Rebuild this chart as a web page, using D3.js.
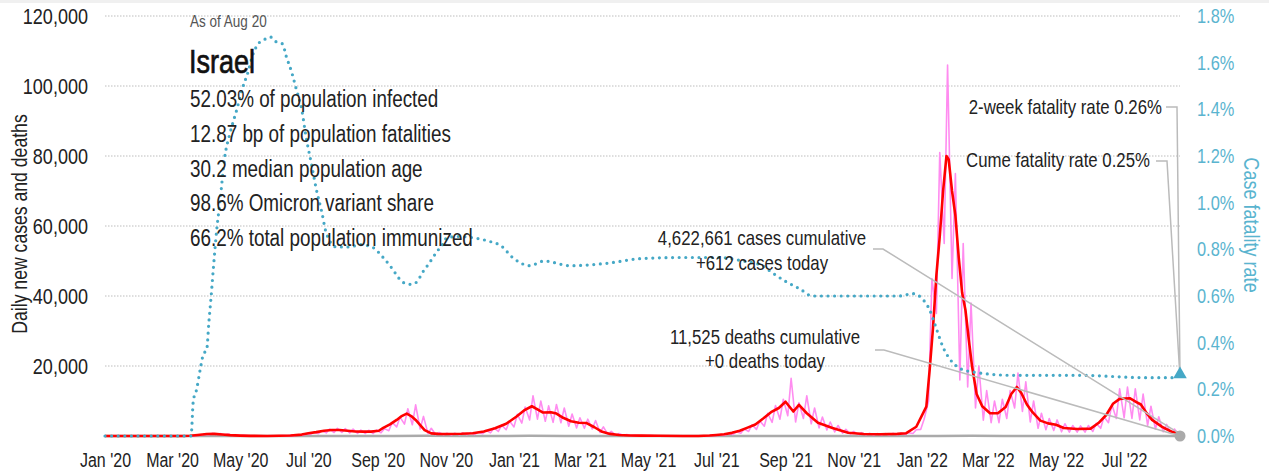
<!DOCTYPE html>
<html>
<head>
<meta charset="utf-8">
<script src="https://cdn.jsdelivr.net/npm/d3@7"></script>
<style>
  html, body { margin: 0; padding: 0; background: #fff; }
  svg { display: block; font-family: "Liberation Sans", Arial, sans-serif; }
</style>
</head>
<body>
<svg id="chart" width="1269" height="476"></svg>
<script>
// ---- Data -------------------------------------------------------------
const startDay = "2020-01-01";
const endDay = "2022-08-20";

// 7-day average of daily new cases
const avgDates = [
  "2020-01-01","2020-03-01","2020-03-10","2020-03-17","2020-03-24","2020-04-01","2020-04-08","2020-04-15",
  "2020-04-22","2020-05-01","2020-05-10","2020-05-25","2020-06-05","2020-06-15","2020-06-25","2020-07-01",
  "2020-07-08","2020-07-15","2020-07-22","2020-07-29","2020-08-05","2020-08-12","2020-08-19","2020-08-26",
  "2020-09-02","2020-09-06","2020-09-12","2020-09-18","2020-09-22","2020-09-27","2020-10-01","2020-10-05",
  "2020-10-13","2020-10-19","2020-10-25","2020-11-01","2020-11-15","2020-11-25","2020-12-05","2020-12-15",
  "2020-12-25","2021-01-03","2021-01-10","2021-01-17","2021-01-22","2021-01-27","2021-02-03","2021-02-08",
  "2021-02-14","2021-02-21","2021-02-28","2021-03-07","2021-03-14","2021-03-21","2021-03-28","2021-04-05",
  "2021-04-15","2021-04-25","2021-05-10","2021-06-01","2021-06-15","2021-06-25","2021-07-01","2021-07-08",
  "2021-07-15","2021-07-22","2021-07-29","2021-08-05","2021-08-12","2021-08-19","2021-08-26","2021-09-01",
  "2021-09-08","2021-09-13","2021-09-20","2021-09-30","2021-10-13","2021-10-27","2021-11-10","2021-11-25",
  "2021-12-10","2021-12-18","2021-12-27","2022-01-05","2022-01-08","2022-01-11","2022-01-14","2022-01-17",
  "2022-01-20","2022-01-23","2022-01-25","2022-01-28","2022-01-31","2022-02-03","2022-02-06","2022-02-09",
  "2022-02-12","2022-02-15","2022-02-19","2022-02-24","2022-03-03","2022-03-10","2022-03-17","2022-03-22",
  "2022-03-27","2022-03-31","2022-04-05","2022-04-10","2022-04-17","2022-04-24","2022-05-01","2022-05-08",
  "2022-05-20","2022-06-01","2022-06-08","2022-06-15","2022-06-21","2022-06-27","2022-07-06","2022-07-12",
  "2022-07-16","2022-07-21","2022-07-26","2022-08-04","2022-08-13","2022-08-20"
];
const avgCases = [
  0,0,10,50,300,550,600,450,
  250,120,30,20,80,150,400,800,
  1100,1500,1700,1700,1500,1300,1250,1250,
  1500,2300,3300,4600,5600,6400,5700,4600,
  1700,760,600,570,650,800,1300,2200,
  3500,5500,7300,8500,7600,6700,6800,6400,
  5200,4200,3800,3700,2500,1200,600,300,
  150,100,50,20,20,150,300,500,
  900,1500,2400,3300,5000,6800,8000,9800,
  7000,8900,6500,3800,2300,950,550,500,
  600,800,2650,8400,19000,31000,46000,57000,
  70000,80000,79000,70000,63000,51000,41000,36000,
  27500,19700,12000,8500,6500,6500,8300,12000,
  14000,12300,9000,6800,4400,3600,3200,2300,
  2000,2100,3700,6000,9200,10600,10800,9700,
  9000,6600,4600,2600,1150,850
];

// Daily reported cases: weekly trough (day 2 of each week) and peak (day 5)
const rawLow = [
  0,0,0,0,0,0,0,0,0,1,8,40,200,350,400,300,150,80,25,10,
  8,20,50,70,120,230,480,650,900,1000,1000,850,750,700,700,900,1500,2600,3400,3200,
  2000,700,380,350,300,330,380,450,650,900,1300,1800,2600,3700,4600,4800,4200,3900,3800,2800,
  2300,2200,2000,1000,450,250,130,80,50,40,25,20,15,10,8,6,15,70,150,260,
  450,800,1300,1900,2800,3900,4800,5800,4000,5000,3500,2300,1700,1200,800,550,400,320,280,280,
  320,350,400,700,1900,10000,35000,55000,45000,16000,14000,8000,4500,3800,3800,5000,8000,7000,4000,2200,
  1800,1600,1200,1100,1100,1100,1300,2200,3800,5000,5200,5000,4600,3000,2000,1200,700,400
];
const rawHigh = [
  0,0,0,0,0,0,0,0,0,5,30,150,500,750,700,560,330,190,80,40,
  35,60,130,190,320,600,1100,1500,2000,2200,2100,2000,1700,1650,1700,2100,3900,5400,7800,8900,
  5600,2200,1000,800,800,850,950,1100,1600,2300,3100,4300,6200,8300,11500,10000,8600,9000,8000,6300,
  5200,4800,4400,2600,1300,700,400,230,160,110,80,65,50,35,28,22,50,200,400,680,
  1200,2000,3200,4300,6500,8700,10500,16500,9500,11500,8000,5400,4000,3000,1900,1300,950,750,680,680,
  750,820,950,1800,4800,45000,81000,106000,75000,55000,38000,20000,13000,10000,10500,13000,18000,15500,10000,6500,
  5000,4600,3500,3000,2900,3000,3600,5500,9000,13500,14000,13500,12000,8500,5500,3300,2000
];

// 7-day average of daily deaths, mid-month
const deathDates = [
  "2020-01-01","2020-03-15","2020-04-15","2020-05-15","2020-06-15","2020-07-15","2020-08-15","2020-09-15",
  "2020-10-15","2020-11-15","2020-12-15","2021-01-15","2021-02-15","2021-03-15","2021-04-15","2021-05-15",
  "2021-06-15","2021-07-15","2021-08-15","2021-09-15","2021-10-15","2021-11-15","2021-12-15","2022-01-15",
  "2022-02-15","2022-03-15","2022-04-15","2022-05-15","2022-06-15","2022-07-15","2022-08-20"
];
const deathAvg = [
  0,1,8,2,0.5,5,12,20,
  38,15,18,45,35,18,5,1,
  0.5,2,15,22,10,3,2,25,
  45,15,8,4,2,5,0
];

// Case fatality rate, percent of cases
const cfrDates = [
  "2020-01-01","2020-03-18","2020-03-20","2020-03-23","2020-03-26","2020-03-29","2020-04-01","2020-04-03",
  "2020-04-05","2020-04-07","2020-04-10","2020-04-13","2020-04-17","2020-04-22","2020-04-28","2020-05-03",
  "2020-05-08","2020-05-12","2020-05-17","2020-05-23","2020-05-28","2020-06-02","2020-06-08","2020-06-11",
  "2020-06-16","2020-06-20","2020-06-25","2020-06-29","2020-07-04","2020-07-08","2020-07-13","2020-07-17",
  "2020-07-26","2020-08-07","2020-08-16","2020-08-27","2020-09-05","2020-09-12","2020-09-18","2020-09-23",
  "2020-10-01","2020-10-06","2020-10-11","2020-10-17","2020-10-24","2020-10-29","2020-11-02","2020-11-13",
  "2020-11-25","2020-12-13","2020-12-19","2021-01-01","2021-01-15","2021-01-28","2021-02-20","2021-03-25",
  "2021-04-24","2021-05-29","2021-07-04","2021-07-25","2021-08-11","2021-08-20","2021-09-02","2021-09-14",
  "2021-09-25","2021-10-19","2021-12-12","2021-12-24","2022-01-01","2022-01-08","2022-01-14","2022-01-20",
  "2022-01-26","2022-02-04","2022-02-15","2022-03-23","2022-05-22","2022-07-21","2022-08-13","2022-08-20"
];
const cfrValues = [
  0,0,0.15,0.2,0.28,0.35,0.37,0.49,
  0.6,0.72,0.885,1.01,1.19,1.30,1.40,1.49,
  1.56,1.63,1.68,1.70,1.71,1.69,1.68,1.63,
  1.56,1.49,1.40,1.28,1.16,1.06,0.96,0.87,
  0.81,0.81,0.82,0.81,0.77,0.73,0.69,0.66,
  0.65,0.66,0.70,0.74,0.79,0.82,0.85,0.855,
  0.85,0.83,0.82,0.76,0.73,0.75,0.73,0.74,
  0.76,0.765,0.765,0.75,0.73,0.70,0.66,0.63,
  0.60,0.60,0.60,0.61,0.59,0.54,0.46,0.38,
  0.33,0.29,0.275,0.26,0.26,0.25,0.25,0.26
];

const casesCumulative = 4622661;
const casesToday = 612;
const deathsCumulative = 11525;
const deathsToday = 0;
const cfrTwoWeek = 0.26;
const cfrCume = 0.25;

const infoLines = [
  "52.03% of population infected",
  "12.87 bp of population fatalities",
  "30.2 median population age",
  "98.6% Omicron variant share",
  "66.2% total population immunized"
];
const leftTicks = [20000, 40000, 60000, 80000, 100000, 120000];
const rightTicks = [0, 0.2, 0.4, 0.6, 0.8, 1.0, 1.2, 1.4, 1.6, 1.8];

// ---- Setup -------------------------------------------------------------
const parse = d3.utcParse("%Y-%m-%d");
const t0 = parse(startDay), t1 = parse(endDay);

const svg = d3.select("#chart");
const x = d3.scaleUtc().domain([t0, t1]).range([105, 1180]);
const yL = d3.scaleLinear().domain([0, 120000]).range([436, 16]);
const yR = d3.scaleLinear().domain([0, 1.8]).range([436, 16]);

const C = {
  grid: "#bdbdbd", text: "#222", raw: "#ff8cf0", avg: "#ff0000",
  cfr: "#45a8c6", axisR: "#5ab4cf", death: "#aaaaaa", leader: "#bbbbbb"
};

// condensed type: squeeze glyphs horizontally around each text's anchor point
const NARROW = 0.82;
function narrow(sel) {
  sel.each(function () {
    const t = d3.select(this);
    const ax = +t.attr("x") || 0, ay = +t.attr("y") || 0;
    t.attr("transform", `translate(${ax},${ay}) scale(${NARROW},1) translate(${-ax},${-ay})`);
  });
}

// top strip
svg.append("rect").attr("x", 0).attr("y", 0).attr("width", 1269).attr("height", 3).attr("fill", "#f0f0f0");

// ---- Grid -------------------------------------------------------------
svg.append("g").selectAll("line").data(leftTicks).join("line")
  .attr("x1", 105).attr("x2", 1180)
  .attr("y1", d => yL(d)).attr("y2", d => yL(d))
  .attr("stroke", C.grid).attr("stroke-width", 1).attr("stroke-dasharray", "1.5 1.5");

// ---- Axes -------------------------------------------------------------
const axL = svg.append("g").attr("transform", "translate(88,0)")
  .call(d3.axisLeft(yL).tickValues(leftTicks).tickSize(0).tickPadding(0).tickFormat(d3.format(",")));
axL.select(".domain").remove();
axL.selectAll("text").attr("font-size", 22).attr("fill", C.text).attr("font-family", null).call(narrow);

const axR = svg.append("g").attr("transform", "translate(1197,0)")
  .call(d3.axisRight(yR).tickValues(rightTicks).tickSize(0).tickPadding(0).tickFormat(d => d.toFixed(1) + "%"));
axR.select(".domain").remove();
axR.selectAll("text").attr("font-size", 20).attr("fill", C.axisR).attr("font-family", null).call(narrow);

const monthTicks = d3.utcMonth.range(t0, t1, 2);
const axB = svg.append("g").attr("transform", "translate(0,448)")
  .call(d3.axisBottom(x).tickValues(monthTicks).tickSize(0).tickPadding(0)
    .tickFormat(d => d3.utcFormat("%b '%y")(d)));
axB.select(".domain").remove();
axB.selectAll("text").attr("font-size", 19.5).attr("fill", C.text).attr("font-family", null)
  .attr("dy", "0.99em").call(narrow);

svg.append("text")
  .attr("transform", `translate(27,224) rotate(-90) scale(${NARROW},1)`)
  .attr("text-anchor", "middle").attr("font-size", 21.5).attr("fill", C.text)
  .text("Daily new cases and deaths");
svg.append("text")
  .attr("transform", `translate(1244,225) rotate(90) scale(${NARROW},1)`)
  .attr("text-anchor", "middle").attr("font-size", 22).attr("fill", C.axisR)
  .text("Case fatality rate");

// ---- Series -------------------------------------------------------------
const deaths = deathDates.map((d, i) => ({ d: parse(d), v: deathAvg[i] }));
svg.append("path").datum(deaths)
  .attr("fill", "none").attr("stroke", C.death).attr("stroke-width", 2.5)
  .attr("d", d3.line().x(p => x(p.d)).y(p => yL(p.v)));

const raw = [];
rawLow.forEach((v, i) => {
  raw.push({ d: d3.utcDay.offset(t0, 7 * i + 2), v });
  if (i < rawHigh.length) raw.push({ d: d3.utcDay.offset(t0, 7 * i + 5), v: rawHigh[i] });
});
raw.push({ d: t1, v: casesToday });
const rawPts = raw.filter(p => p.d <= t1);
svg.append("path").datum(rawPts)
  .attr("fill", "none").attr("stroke", C.raw).attr("stroke-width", 1.6).attr("stroke-linejoin", "round")
  .attr("d", d3.line().x(p => x(p.d)).y(p => yL(p.v)));

const avg = avgDates.map((d, i) => ({ d: parse(d), v: avgCases[i] }));
svg.append("path").datum(avg)
  .attr("fill", "none").attr("stroke", C.avg).attr("stroke-width", 2.6).attr("stroke-linejoin", "round")
  .attr("d", d3.line().x(p => x(p.d)).y(p => yL(p.v)));

const cfr = cfrDates.map((d, i) => ({ d: parse(d), v: cfrValues[i] }));
svg.append("path").datum(cfr)
  .attr("fill", "none").attr("stroke", C.cfr).attr("stroke-width", 3.2)
  .attr("stroke-linecap", "round").attr("stroke-dasharray", "0 6.6")
  .attr("d", d3.line().curve(d3.curveMonotoneX).x(p => x(p.d)).y(p => yR(p.v)));

// ---- Leader lines and end markers ------------------------------------------
const xe = x(t1);
const leaders = [
  [[873, 249], [883, 249], [xe, yL(casesToday)]],
  [[875, 350], [884, 350], [xe, yL(deathsToday)]],
  [[1166, 107], [1177, 107], [xe, yR(cfrTwoWeek)]],
  [[1156, 161], [1167, 161], [xe, yR(cfrCume)]]
];
svg.append("g").selectAll("path").data(leaders).join("path")
  .attr("fill", "none").attr("stroke", C.leader).attr("stroke-width", 1.5)
  .attr("d", d3.line());

svg.append("circle").attr("cx", xe).attr("cy", yL(deathAvg[deathAvg.length - 1]))
  .attr("r", 5.5).attr("fill", C.death);
svg.append("path")
  .attr("transform", `translate(${xe},${yR(cfrValues[cfrValues.length - 1]) - 1})`)
  .attr("d", d3.symbol(d3.symbolTriangle, 80)()).attr("fill", C.cfr);

// ---- Annotations -------------------------------------------------------------
const fmt = d3.format(",");
const notes = [
  { x: 762, y: 245, a: "middle", t: `${fmt(casesCumulative)} cases cumulative` },
  { x: 762, y: 270, a: "middle", t: `+${fmt(casesToday)} cases today` },
  { x: 765, y: 344, a: "middle", t: `${fmt(deathsCumulative)} deaths cumulative` },
  { x: 765, y: 368, a: "middle", t: `+${fmt(deathsToday)} deaths today` },
  { x: 1162, y: 114, a: "end", t: `2-week fatality rate ${cfrTwoWeek.toFixed(2)}%` },
  { x: 1150, y: 167, a: "end", t: `Cume fatality rate ${cfrCume.toFixed(2)}%` }
];
svg.append("g").selectAll("text").data(notes).join("text")
  .attr("x", d => d.x).attr("y", d => d.y).attr("text-anchor", d => d.a)
  .attr("font-size", 20.5).attr("fill", C.text).text(d => d.t).call(narrow);

// ---- Country block -------------------------------------------------------------
svg.append("text").attr("x", 190).attr("y", 27).attr("font-size", 16.5).attr("fill", "#555")
  .text("As of Aug 20").call(narrow);
svg.append("text").attr("x", 189).attr("y", 73).attr("font-size", 33)
  .attr("fill", "#111").attr("stroke", "#111").attr("stroke-width", 0.7)
  .text("Israel").call(narrow);
svg.append("g").selectAll("text").data(infoLines).join("text")
  .attr("x", 190).attr("y", (d, i) => 107 + i * 34.8)
  .attr("font-size", 23).attr("fill", C.text).text(d => d).call(narrow);
</script>
</body>
</html>
